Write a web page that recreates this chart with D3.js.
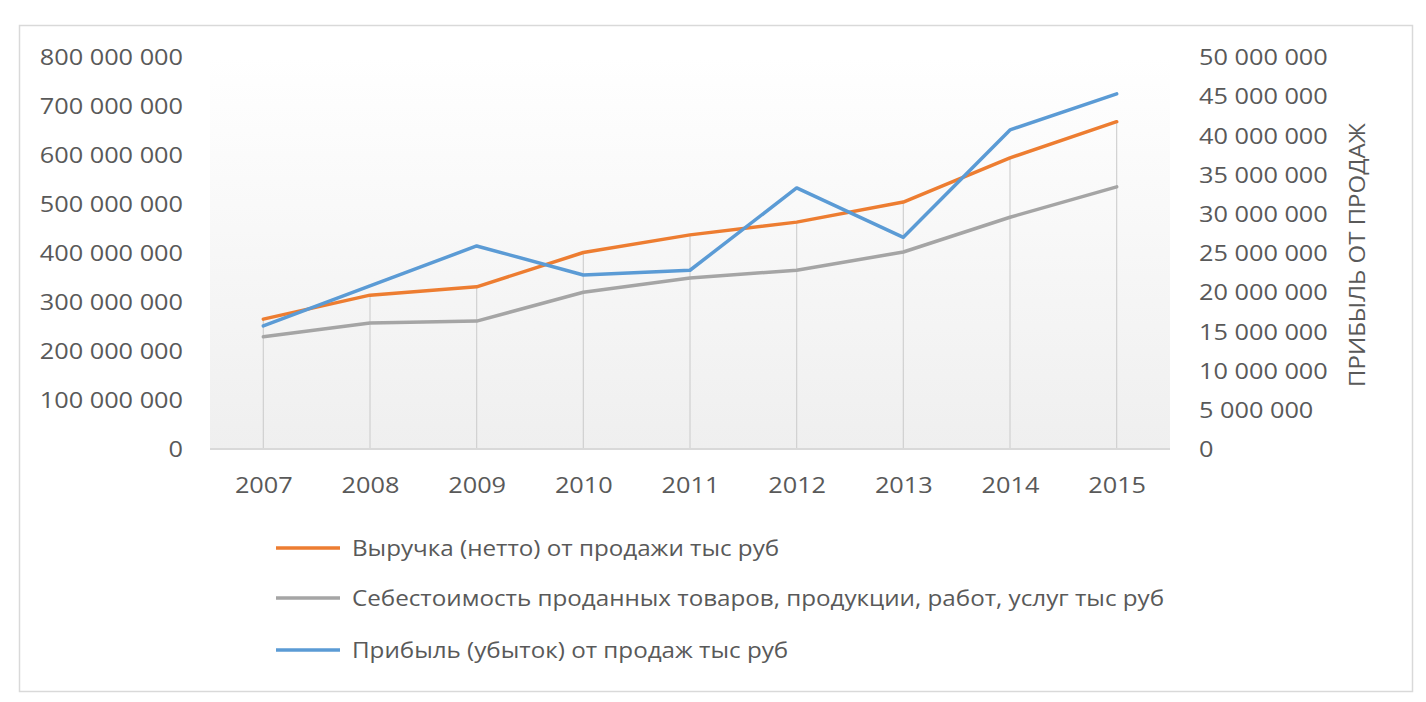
<!DOCTYPE html>
<html>
<head>
<meta charset="utf-8">
<script src="https://cdn.jsdelivr.net/npm/d3@7"></script>
<style>
  html, body { margin: 0; padding: 0; background: #ffffff; }
  svg { display: block; }
  text { font-family: "Open Sans", "Noto Sans", sans-serif; fill: #595959; }
</style>
</head>
<body>
<svg id="chart" width="1426" height="702"></svg>
<script>
// ---- data ----
const years = ["2007", "2008", "2009", "2010", "2011", "2012", "2013", "2014", "2015"];
const revenue = [265e6, 314e6, 331e6, 401e6, 437e6, 463e6, 504e6, 594e6, 668e6];
const cost    = [229e6, 257e6, 261e6, 320e6, 349e6, 365e6, 402e6, 473e6, 535e6];
const profit  = [15.7e6, 20.8e6, 25.9e6, 22.2e6, 22.8e6, 33.3e6, 27.0e6, 40.7e6, 45.3e6];
const leftTicks  = [0, 100e6, 200e6, 300e6, 400e6, 500e6, 600e6, 700e6, 800e6];
const rightTicks = [0, 5e6, 10e6, 15e6, 20e6, 25e6, 30e6, 35e6, 40e6, 45e6, 50e6];
const seriesNames = [
  "Выручка (нетто) от продажи тыс руб",
  "Себестоимость проданных товаров, продукции, работ, услуг тыс руб",
  "Прибыль (убыток) от продаж тыс руб"
];
const rightAxisTitle = "ПРИБЫЛЬ ОТ ПРОДАЖ";

// ---- layout ----
const colors = ["#ED7D31", "#A5A5A5", "#5B9BD5"];
const plot = { left: 210, right: 1170, top: 57, bottom: 449 };
const SX = 1.15;          // horizontal stretch of the reference text
const SXL = 1.10;         // legend stretch
const FS = 22;

const svg = d3.select("#chart");
const locale = d3.formatLocale({ decimal: ",", thousands: "\u00a0", grouping: [3], currency: ["", ""] });
const fmt = locale.format(",");

const x = d3.scalePoint().domain(years).range([plot.left, plot.right]).padding(0.5);
const yL = d3.scaleLinear().domain([0, 800e6]).range([plot.bottom, plot.top]);
const yR = d3.scaleLinear().domain([0, 50e6]).range([plot.bottom, plot.top]);

// outer frame
svg.append("rect").attr("x", 19.5).attr("y", 25.5).attr("width", 1393).attr("height", 666)
  .attr("fill", "#fff").attr("stroke", "#d9d9d9").attr("stroke-width", 1.5);

// plot area gradient
const defs = svg.append("defs");
const grad = defs.append("linearGradient").attr("id", "pg").attr("x1", 0).attr("y1", 0).attr("x2", 0).attr("y2", 1);
grad.append("stop").attr("offset", "0%").attr("stop-color", "#ffffff");
grad.append("stop").attr("offset", "100%").attr("stop-color", "#efefef");
svg.append("rect").attr("x", plot.left).attr("y", plot.top)
  .attr("width", plot.right - plot.left).attr("height", plot.bottom - plot.top)
  .attr("fill", "url(#pg)");

// drop lines (primary group: from highest primary value to the axis)
svg.append("g").selectAll("line").data(years).join("line")
  .attr("x1", d => x(d)).attr("x2", d => x(d))
  .attr("y1", plot.bottom)
  .attr("y2", (d, i) => yL(Math.max(revenue[i], cost[i])))
  .attr("stroke", "#d0d0d0").attr("stroke-width", 1.2);

// baseline
svg.append("line").attr("x1", plot.left).attr("x2", plot.right)
  .attr("y1", plot.bottom).attr("y2", plot.bottom)
  .attr("stroke", "#d9d9d9").attr("stroke-width", 2);

// left axis labels
const gl = svg.append("g").attr("transform", `translate(183,0)`)
  .call(d3.axisLeft(yL).tickValues(leftTicks).tickFormat(fmt).tickSize(0).tickPadding(0));
gl.select(".domain").remove();
gl.selectAll(".tick text")
  .attr("x", 0).attr("dy", "0.35em")
  .attr("transform", `scale(${SX},1)`)
  .attr("font-size", FS).attr("fill", "#595959")
  .attr("font-family", "Open Sans");

// right axis labels
const gr = svg.append("g").attr("transform", `translate(1199,0)`)
  .call(d3.axisRight(yR).tickValues(rightTicks).tickFormat(fmt).tickSize(0).tickPadding(0));
gr.select(".domain").remove();
gr.selectAll(".tick text")
  .attr("x", 0).attr("dy", "0.35em")
  .attr("transform", `scale(${SX},1)`)
  .attr("font-size", FS).attr("fill", "#595959")
  .attr("font-family", "Open Sans");

// x axis labels
const gx = svg.append("g").attr("transform", `translate(0,${plot.bottom})`)
  .call(d3.axisBottom(x).tickSize(0).tickPadding(0));
gx.select(".domain").remove();
gx.selectAll(".tick text")
  .attr("y", 36).attr("dy", "0.35em")
  .attr("transform", `scale(${SX},1)`)
  .attr("font-size", FS).attr("fill", "#595959")
  .attr("font-family", "Open Sans");

// right axis title
svg.append("text")
  .attr("transform", `translate(1357,${(plot.top + plot.bottom) / 2 + 2}) rotate(-90) scale(1.2,1.08)`)
  .attr("text-anchor", "middle").attr("dy", "0.35em")
  .attr("font-size", 20).attr("fill", "#595959")
  .text(rightAxisTitle);

// lines
const lineL = d3.line().x((d, i) => x(years[i])).y(d => yL(d));
const lineR = d3.line().x((d, i) => x(years[i])).y(d => yR(d));
svg.append("path").datum(cost).attr("d", lineL).attr("fill", "none")
  .attr("stroke", colors[1]).attr("stroke-width", 3.5).attr("stroke-linejoin", "round").attr("stroke-linecap", "round");
svg.append("path").datum(revenue).attr("d", lineL).attr("fill", "none")
  .attr("stroke", colors[0]).attr("stroke-width", 3.5).attr("stroke-linejoin", "round").attr("stroke-linecap", "round");
svg.append("path").datum(profit).attr("d", lineR).attr("fill", "none")
  .attr("stroke", colors[2]).attr("stroke-width", 3.5).attr("stroke-linejoin", "round").attr("stroke-linecap", "round");

// legend
const legendY = [548, 598, 650];
const lg = svg.append("g").selectAll("g").data(seriesNames).join("g")
  .attr("transform", (d, i) => `translate(0,${legendY[i]})`);
lg.append("line").attr("x1", 276).attr("x2", 340).attr("y1", 0).attr("y2", 0)
  .attr("stroke", (d, i) => colors[i]).attr("stroke-width", 3.5);
lg.append("text").attr("transform", `translate(352,0) scale(${SXL},1)`)
  .attr("dy", "0.35em").attr("font-size", FS).text(d => d);
</script>
</body>
</html>
